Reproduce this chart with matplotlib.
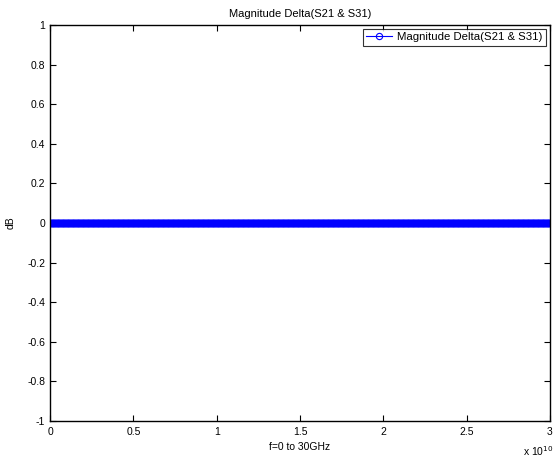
import numpy as np
import matplotlib
matplotlib.use("Agg")
import matplotlib.pyplot as plt

plt.rcParams['font.family'] = ['Liberation Sans', 'DejaVu Sans']

# Data
freq_start_hz = 0.0
freq_stop_hz = 3e10
n_points = 1601
freq = np.linspace(freq_start_hz, freq_stop_hz, n_points)
mag_delta_db = np.zeros(n_points)  # S21 vs S31 magnitude delta reads 0 dB everywhere

xticks = [0, 0.5e10, 1e10, 1.5e10, 2e10, 2.5e10, 3e10]
xticklabels = ['0', '0.5', '1', '1.5', '2', '2.5', '3']
yticks = [-1, -0.8, -0.6, -0.4, -0.2, 0, 0.2, 0.4, 0.6, 0.8, 1]
yticklabels = ['-1', '-0.8', '-0.6', '-0.4', '-0.2', '0', '0.2', '0.4', '0.6', '0.8', '1']

fig = plt.figure(figsize=(5.54, 4.61), dpi=100)
W, H = 554, 461
ax = fig.add_axes([50 / W, 1 - 421 / H, 500 / W, 396 / H])

ax.plot(freq, mag_delta_db, '-o', color='blue', markersize=4.5,
        markerfacecolor='none', markeredgewidth=0.8, linewidth=0.8,
        label='Magnitude Delta(S21 & S31)')

ax.set_xlim(0, 3e10)
ax.set_ylim(-1, 1)
ax.set_xticks(xticks)
ax.set_xticklabels(xticklabels)
ax.set_yticks(yticks)
ax.set_yticklabels(yticklabels)
ax.tick_params(direction='in', length=4, width=0.8, labelsize=7.5,
               top=True, right=True, colors='black')
ax.tick_params(axis='x', pad=4)
for s in ax.spines.values():
    s.set_linewidth(1.0)

ax.set_title('Magnitude Delta(S21 & S31)', fontsize=8, pad=6)
ax.set_xlabel('f=0 to 30GHz', fontsize=7.5, labelpad=4)
ax.set_ylabel('dB', fontsize=7.5, labelpad=8)

fig.text(538 / W, 1 - 451 / H, r'x 10$^{10}$', fontsize=7.5, ha='center', va='center')

leg = ax.legend(loc='upper right', fontsize=8.2, frameon=True, fancybox=False,
                edgecolor='black', borderpad=0.3, handlelength=2.2,
                borderaxespad=0.35, handletextpad=0.5)
leg.get_frame().set_linewidth(0.8)

fig.savefig('out.png', dpi=100)
